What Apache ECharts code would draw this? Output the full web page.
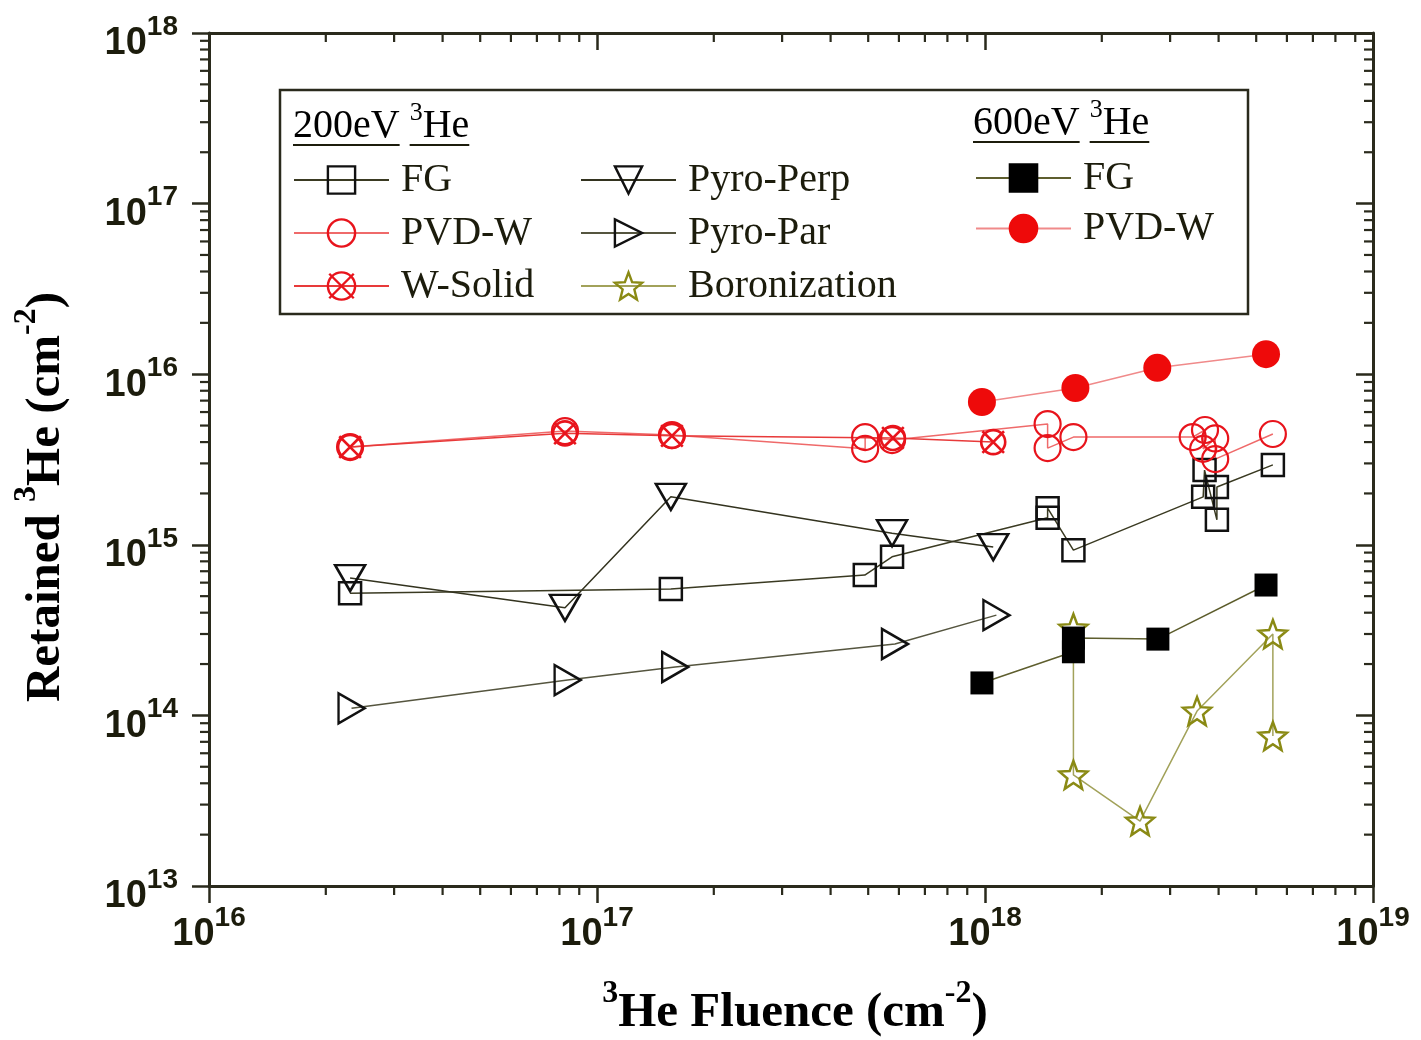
<!DOCTYPE html>
<html>
<head>
<meta charset="utf-8">
<script src="https://cdn.jsdelivr.net/npm/echarts@6/dist/echarts.min.js"></script>
<style>
  html, body { margin: 0; padding: 0; background: #ffffff; }
  #chart { width: 1421px; height: 1040px; }
</style>
</head>
<body>
<div id="chart"></div>
<script>
// Retained 3He versus 3He fluence; each pair is [fluence (cm^-2), retained (cm^-2)]
const fg200 = [[2.31e16, 5.2e14], [1.55e17, 5.5e14], [4.9e17, 6.65e14], [5.76e17, 8.5e14],
  [1.45e18, 1.44e15], [1.45e18, 1.64e15], [1.69e18, 9.3e14], [3.65e18, 1.91e15],
  [3.68e18, 2.74e15], [3.96e18, 1.40e15], [3.96e18, 2.18e15], [5.52e18, 2.94e15]];
const pvd200 = [[2.31e16, 3.74e15], [8.27e16, 4.64e15], [1.56e17, 4.40e15], [4.91e17, 3.65e15],
  [4.91e17, 4.28e15], [5.76e17, 4.11e15], [1.45e18, 5.1e15], [1.45e18, 3.69e15],
  [1.69e18, 4.28e15], [3.43e18, 4.28e15], [3.69e18, 4.71e15], [3.65e18, 3.65e15],
  [3.92e18, 4.2e15], [3.92e18, 3.18e15], [5.52e18, 4.46e15]];
const wSolid = [[2.31e16, 3.74e15], [8.27e16, 4.5e15], [1.56e17, 4.35e15], [5.79e17, 4.23e15], [1.05e18, 4.0e15]];
const pyroPerp = [[2.31e16, 6.38e14], [8.27e16, 4.27e14], [1.55e17, 1.91e15], [5.76e17, 1.17e15], [1.05e18, 9.7e14]];
const pyroPar = [[2.33e16, 1.10e14], [8.4e16, 1.61e14], [1.59e17, 1.92e14], [5.86e17, 2.62e14], [1.07e18, 3.87e14]];
const boronization = [[1.69e18, 3.25e14], [1.69e18, 4.48e13], [2.51e18, 2.40e13], [3.52e18, 1.06e14],
  [5.52e18, 3.0e14], [5.52e18, 7.57e13]];
const fg600 = [[9.82e17, 1.55e14], [1.69e18, 2.36e14], [1.69e18, 2.84e14], [2.79e18, 2.8e14], [5.3e18, 5.81e14]];
const pvd600 = [[9.82e17, 6.87e15], [1.71e18, 8.3e15], [2.78e18, 1.09e16], [5.3e18, 1.31e16]];

// axis ranges (decades)
const X_MIN = 1e16, X_MAX = 1e19;
const Y_MIN = 1e13, Y_MAX = 1e18;

const SERIF = '"Liberation Serif", "Times New Roman", serif';
const SANS = '"Liberation Sans", Arial, sans-serif';
const AXIS = '#2a2a1c';
const TEXT = '#1c1c0c';
const RED = '#e8141c';
const OLIVE = '#8a8a14';

// marker outlines
const SYM_STAR = 'path://M10,0L12.53,6.52L19.51,6.91L14.09,11.33L15.88,18.09L10,14.3L4.12,18.09L5.91,11.33L0.49,6.91L7.47,6.52Z';
const SYM_DOWN = 'path://M0,0L20,0L10,17Z';
const SYM_RIGHT = 'path://M0,0L17,10L0,20Z';
const SYM_CROSS_CIRCLE = 'path://M0,10A10,10,0,1,1,20,10A10,10,0,1,1,0,10ZM1,1L19,19M19,1L1,19';

// minor log ticks at 2..9 of each decade
const minorX = [];
for (let e = 16; e < 19; e++) for (let m = 2; m <= 9; m++) minorX.push(m * Math.pow(10, e));
const minorY = [];
for (let e = 13; e < 18; e++) for (let m = 2; m <= 9; m++) minorY.push(m * Math.pow(10, e));

const decadeLabel = v => '{b|10}{s|' + Math.round(Math.log10(v)) + '}';
const tickRich = {
  b: { fontFamily: SANS, fontWeight: 'bold', fontSize: 38, lineHeight: 50, verticalAlign: 'bottom', color: TEXT },
  s: { fontFamily: SANS, fontWeight: 'bold', fontSize: 28, lineHeight: 32, verticalAlign: 'top', color: TEXT }
};
const titleRich = {
  b: { fontFamily: SERIF, fontWeight: 'bold', fontSize: 49, lineHeight: 60, verticalAlign: 'bottom', color: TEXT },
  s: { fontFamily: SERIF, fontWeight: 'bold', fontSize: 32, lineHeight: 32, verticalAlign: 'top', color: TEXT }
};
const headRich = {
  a: { fontFamily: SERIF, fontSize: 40, lineHeight: 46, verticalAlign: 'bottom', color: TEXT },
  s: { fontFamily: SERIF, fontSize: 26, lineHeight: 28, verticalAlign: 'top', color: TEXT }
};

function logAxis(pos, min, max, showLabel, inside, margin, padding) {
  return {
    type: 'log', logBase: 10, position: pos, min: min, max: max,
    axisLine: { show: true, onZero: false, lineStyle: { color: AXIS, width: 3 } },
    axisTick: { show: true, inside: inside, length: 17, lineStyle: { color: AXIS, width: 2.5 } },
    minorTick: { show: false },
    splitLine: { show: false },
    axisLabel: showLabel
      ? { show: true, margin: margin, padding: padding, formatter: decadeLabel, rich: tickRich }
      : { show: false }
  };
}

function tickSeries(values, vertical) {
  return {
    type: 'custom', silent: true, clip: false, z: 5,
    xAxisIndex: 0, yAxisIndex: 0,
    data: values.map(v => vertical ? [X_MIN, v] : [v, Y_MIN]),
    renderItem: (params, api) => {
      const style = { stroke: AXIS, lineWidth: 2.2 };
      if (vertical) {
        const v = api.value(1);
        const l = api.coord([X_MIN, v]);
        const r = api.coord([X_MAX, v]);
        return { type: 'group', children: [
          { type: 'line', shape: { x1: l[0] - 9, y1: l[1], x2: l[0], y2: l[1] }, style: style },
          { type: 'line', shape: { x1: r[0] - 9, y1: r[1], x2: r[0], y2: r[1] }, style: style }
        ] };
      }
      const v = api.value(0);
      const b = api.coord([v, Y_MIN]);
      const t = api.coord([v, Y_MAX]);
      return { type: 'group', children: [
        { type: 'line', shape: { x1: b[0], y1: b[1], x2: b[0], y2: b[1] + 9 }, style: style },
        { type: 'line', shape: { x1: t[0], y1: t[1], x2: t[0], y2: t[1] + 9 }, style: style }
      ] };
    }
  };
}

function lineSeries(name, data, symbol, size, fill, stroke, lineColor, borderWidth) {
  return {
    name: name, type: 'line', data: data,
    xAxisIndex: 0, yAxisIndex: 0,
    symbol: symbol, symbolSize: size, showSymbol: true, showAllSymbol: true,
    itemStyle: { color: fill, borderColor: stroke, borderWidth: borderWidth },
    lineStyle: { color: lineColor, width: 1.5 },
    emphasis: { disabled: true },
    z: 3
  };
}

// text widths for underlining the legend headers
const measureCtx = document.createElement('canvas').getContext('2d');
function textWidth(str, size) {
  measureCtx.font = size + 'px ' + SERIF;
  return measureCtx.measureText(str).width;
}
function header(x, y, energy) {
  const w1 = textWidth(energy, 40);
  const wSp = textWidth(energy + ' ', 40) - w1;
  const w3 = textWidth('3', 26);
  const wHe = textWidth('He', 40);
  const uy = y + 45;
  const lineStyle = { stroke: TEXT, lineWidth: 2 };
  return [
    { type: 'text', x: x, y: y, style: { text: '{a|' + energy + ' }{s|3}{a|He}', rich: headRich, align: 'left', verticalAlign: 'top' } },
    { type: 'line', shape: { x1: x, y1: uy, x2: x + w1, y2: uy }, style: lineStyle },
    { type: 'line', shape: { x1: x + w1 + wSp, y1: uy, x2: x + w1 + wSp + w3 + wHe, y2: uy }, style: lineStyle }
  ];
}

const legendBase = {
  orient: 'vertical', padding: 0, itemWidth: 95, itemHeight: 34, selectedMode: false,
  itemStyle: { borderWidth: 2.4 },
  textStyle: { fontFamily: SERIF, fontSize: 40, color: TEXT, padding: [0, 0, 0, 7] }
};

const chart = echarts.init(document.getElementById('chart'), null, { renderer: 'canvas' });
chart.setOption({
  animation: false,
  backgroundColor: '#ffffff',
  grid: { left: 209, right: 48, top: 33, bottom: 154, containLabel: false, outerBoundsMode: 'none' },
  xAxis: [
    logAxis('bottom', X_MIN, X_MAX, true, false, 18, 0),
    logAxis('top', X_MIN, X_MAX, false, true, 0, 0)
  ],
  yAxis: [
    logAxis('left', Y_MIN, Y_MAX, true, false, 31, [10, 0, 0, 0]),
    logAxis('right', Y_MIN, Y_MAX, false, true, 0, 0)
  ],
  legend: [
    Object.assign({}, legendBase, { data: ['FG', 'PVD-W', 'W-Solid'], left: 293, top: 160, itemGap: 13 }),
    Object.assign({}, legendBase, { data: ['Pyro-Perp', 'Pyro-Par', 'Boronization'], left: 580, top: 160, itemGap: 13 }),
    Object.assign({}, legendBase, { data: ['FG 600eV', 'PVD-W 600eV'], left: 975, top: 158, itemGap: 10.5,
      formatter: n => n.replace(' 600eV', '') })
  ],
  graphic: { elements: [
    { type: 'rect', shape: { x: 280, y: 90, width: 968, height: 224 }, style: { fill: 'none', stroke: AXIS, lineWidth: 2.5 } },
    ...header(293, 100, '200eV'),
    ...header(973, 97, '600eV'),
    { type: 'text', x: 795, y: 1008, style: { text: '{s|3}{b|He Fluence (cm}{s|-2}{b|)}', rich: titleRich, align: 'center', verticalAlign: 'middle' } },
    { type: 'text', x: 41, y: 497, rotation: Math.PI / 2,
      style: { text: '{b|Retained }{s|3}{b|He (cm}{s|-2}{b|)}', rich: titleRich, align: 'center', verticalAlign: 'middle' } }
  ] },
  series: [
    tickSeries(minorX, false),
    tickSeries(minorY, true),
    lineSeries('FG', fg200, 'rect', 22, 'rgba(255,255,255,0)', '#111111', '#3a3a22', 2.5),
    lineSeries('PVD-W', pvd200, 'circle', 26, 'rgba(255,255,255,0)', RED, '#ef6a6a', 2.2),
    lineSeries('W-Solid', wSolid, SYM_CROSS_CIRCLE, 24, 'rgba(255,255,255,0)', RED, '#e83a3a', 2.6),
    lineSeries('Pyro-Perp', pyroPerp, SYM_DOWN, [30, 26], 'rgba(255,255,255,0)', '#111111', '#33331f', 2.5),
    lineSeries('Pyro-Par', pyroPar, SYM_RIGHT, [26, 30], 'rgba(255,255,255,0)', '#111111', '#55553f', 2.5),
    lineSeries('Boronization', boronization, SYM_STAR, 28, 'rgba(255,255,255,0)', OLIVE, '#a2a25a', 2.5),
    lineSeries('FG 600eV', fg600, 'rect', 23, '#000000', '#000000', '#5e5e2e', 0),
    lineSeries('PVD-W 600eV', pvd600, 'circle', 28, '#ee0a0a', '#ee0a0a', '#f08a8a', 0)
  ]
});
</script>
</body>
</html>
